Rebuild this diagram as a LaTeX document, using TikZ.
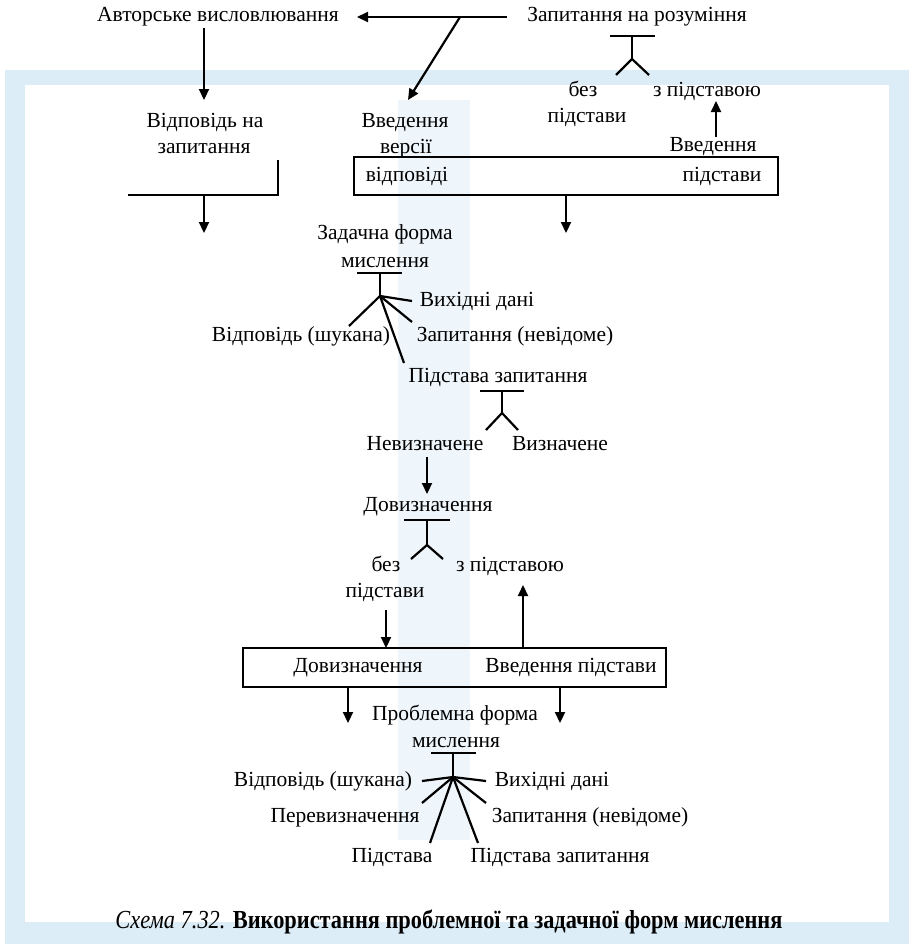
\documentclass[tikz,border=0pt]{standalone}
\usepackage{fontspec}
\usepackage{graphicx}
\setmainfont{Liberation Serif}
\usetikzlibrary{arrows.meta}
\definecolor{frameblue}{HTML}{DCEDF8}
\definecolor{wmblue}{HTML}{EEF6FB}
\tikzset{
  lbl/.style={font=\fontsize{21.5}{25}\selectfont, inner sep=0pt, text height=0.7em, text depth=0.2em, yshift=-2pt},
  ln/.style={line width=2.2pt},
  arr/.style={line width=2.2pt, -{Triangle[length=11pt,width=10pt]}},
  boxn/.style={draw, line width=2.2pt, inner sep=0pt},
}
\begin{document}
\begin{tikzpicture}[x=1pt,y=-1pt]
\useasboundingbox (0,0) rectangle (909,945);
% watermark frame
\fill[frameblue] (5,70) rectangle (909,944);
\fill[white] (25,85) rectangle (889,922);
\fill[wmblue] (398,100) rectangle (470,840);

% top row
\node[lbl] (avt) at (218,17) {Авторське висловлювання};
\node[lbl] (zap) at (637,17) {Запитання на розуміння};
\coordinate (tj) at (507,17);
\coordinate (t1) at (357,17);
\draw[arr] (tj) -- (t1);
\coordinate (dj) at (460,17);
\coordinate (d1) at (408,100);
\draw[arr] (dj) -- (d1);
\coordinate (a2s) at (204,28);
\coordinate (a2e) at (204,100);
\draw[arr] (a2s) -- (a2e);

% fork 1
\coordinate (f1l) at (610,36);
\coordinate (f1r) at (655,36);
\coordinate (f1t) at (632,36);
\coordinate (f1h) at (632,59);
\coordinate (f1a) at (616,75);
\coordinate (f1b) at (649,75);
\draw[ln] (f1l) -- (f1r);
\draw[ln] (f1t) -- (f1h);
\draw[ln] (f1a) -- (f1h) -- (f1b);

\node[lbl] (bez1) at (583,92) {без};
\node[lbl] (bez1b) at (587,118) {підстави};
\node[lbl] (zp1) at (707,92) {з підставою};
\node[lbl] (vv1) at (713,147) {Введення};
\coordinate (a3s) at (716,137);
\coordinate (a3e) at (716,101);
\draw[arr] (a3s) -- (a3e);

\node[lbl] (vv2) at (405,123) {Введення};
\node[lbl] (vv2b) at (406,149) {версії};
\node[lbl] (vid1) at (205,123) {Відповідь на};
\node[lbl] (vid1b) at (204,149) {запитання};

% box 1
\node[boxn, minimum width=424pt, minimum height=38pt] (box1) at (566,176) {};
\node[lbl] (b1l) at (407,177) {відповіді};
\node[lbl] (b1r) at (722,177) {підстави};
\coordinate (b1a) at (566,233);
\draw[arr] (box1.south) -- (b1a);

% bracket
\coordinate (br1) at (278,160);
\coordinate (br2) at (278,195);
\coordinate (br3) at (128,195);
\draw[ln] (br1) -- (br2) -- (br3);
\coordinate (br4) at (204,195);
\coordinate (br5) at (204,233);
\draw[arr] (br4) -- (br5);

% задачна форма
\node[lbl] (zf1) at (385,235) {Задачна форма};
\node[lbl] (zf2) at (385,263) {мислення};
\coordinate (f2l) at (357,273);
\coordinate (f2r) at (402,273);
\coordinate (f2t) at (380,273);
\coordinate (f2h) at (380,296);
\draw[ln] (f2l) -- (f2r);
\draw[ln] (f2t) -- (f2h);
\coordinate (f2a) at (412,301);
\coordinate (f2b) at (412,322);
\coordinate (f2c) at (349,326);
\coordinate (f2d) at (404,363);
\draw[ln] (f2h) -- (f2a);
\draw[ln] (f2h) -- (f2b);
\draw[ln] (f2h) -- (f2c);
\draw[ln] (f2h) -- (f2d);
\node[lbl] (vd1) at (477,302) {Вихідні дані};
\node[lbl] (vsh1) at (301,337) {Відповідь (шукана)};
\node[lbl] (zn1) at (515,337) {Запитання (невідоме)};
\node[lbl] (pz1) at (498,378) {Підстава запитання};

% fork 3
\coordinate (f3l) at (480,391);
\coordinate (f3r) at (524,391);
\coordinate (f3t) at (502,391);
\coordinate (f3h) at (502,413);
\coordinate (f3a) at (486,430);
\coordinate (f3b) at (518,430);
\draw[ln] (f3l) -- (f3r);
\draw[ln] (f3t) -- (f3h);
\draw[ln] (f3a) -- (f3h) -- (f3b);
\node[lbl] (nev) at (425,446) {Невизначене};
\node[lbl] (viz) at (560,446) {Визначене};
\coordinate (a4s) at (427,457);
\coordinate (a4e) at (427,494);
\draw[arr] (a4s) -- (a4e);

\node[lbl] (dov) at (428,507) {Довизначення};
\coordinate (f4l) at (404,520);
\coordinate (f4r) at (450,520);
\coordinate (f4t) at (427,520);
\coordinate (f4h) at (427,545);
\coordinate (f4a) at (411,559);
\coordinate (f4b) at (443,559);
\draw[ln] (f4l) -- (f4r);
\draw[ln] (f4t) -- (f4h);
\draw[ln] (f4a) -- (f4h) -- (f4b);
\node[lbl] (bez2) at (386,567) {без};
\node[lbl] (bez2b) at (385,593) {підстави};
\node[lbl] (zp2) at (510,567) {з підставою};

% box 2
\node[boxn, minimum width=423pt, minimum height=39pt] (box2) at (454.5,667.5) {};
\node[lbl] (b2l) at (358,668) {Довизначення};
\node[lbl] (b2r) at (571,668) {Введення підстави};
\coordinate (a5s) at (386,610);
\coordinate (a5e) at (386,648);
\draw[arr] (a5s) -- (a5e);
\coordinate (a6s) at (523,648);
\coordinate (a6e) at (523,585);
\draw[arr] (a6s) -- (a6e);
\coordinate (a7s) at (348,687);
\coordinate (a7e) at (348,723);
\draw[arr] (a7s) -- (a7e);
\coordinate (a8s) at (560,687);
\coordinate (a8e) at (560,723);
\draw[arr] (a8s) -- (a8e);

% проблемна форма
\node[lbl] (pf1) at (455,716) {Проблемна форма};
\node[lbl] (pf2) at (456,743) {мислення};
\coordinate (f5l) at (431,753);
\coordinate (f5r) at (476,753);
\coordinate (f5t) at (453,753);
\coordinate (f5h) at (453,777);
\draw[ln] (f5l) -- (f5r);
\draw[ln] (f5t) -- (f5h);
\coordinate (f5a) at (422,781);
\coordinate (f5b) at (486,781);
\coordinate (f5c) at (422,803);
\coordinate (f5d) at (486,803);
\coordinate (f5e) at (430,843);
\coordinate (f5f) at (478,843);
\foreach \p in {f5a,f5b,f5c,f5d,f5e,f5f} \draw[ln] (f5h) -- (\p);
\node[lbl] (vsh2) at (323,782) {Відповідь (шукана)};
\node[lbl] (vd2) at (552,782) {Вихідні дані};
\node[lbl] (per) at (345,818) {Перевизначення};
\node[lbl] (zn2) at (590,818) {Запитання (невідоме)};
\node[lbl] (pid) at (392,858) {Підстава};
\node[lbl] (pz2) at (560,858) {Підстава запитання};

% caption
\node[inner sep=0pt, font=\fontsize{26}{30}\selectfont] (cap) at (449,922)
  {\scalebox{0.86}[1]{\textit{Схема 7.32.} \textbf{Використання проблемної та задачної форм мислення}}};
\end{tikzpicture}
\end{document}
